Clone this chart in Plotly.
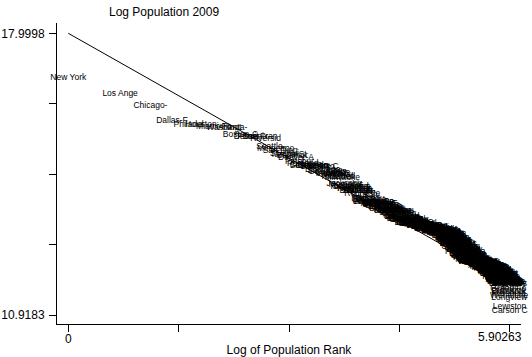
import numpy as np
import plotly.graph_objects as go

# 2009 metropolitan statistical areas, in rank order (names are shown truncated to 8 chars)
msa_names = [
    "New York-Northern New Jersey", "Los Angeles-Long Beach", "Chicago-Naperville", "Dallas-Fort Worth",
    "Philadelphia-Camden", "Houston-Sugar Land", "Miami-Fort Lauderdale", "Washington-Arlington",
    "Atlanta-Sandy Springs", "Boston-Cambridge", "Detroit-Warren", "Phoenix-Mesa",
    "San Francisco-Oakland", "Riverside-San Bernardino", "Seattle-Tacoma", "Minneapolis-St. Paul",
    "San Diego-Carlsbad", "St. Louis", "Tampa-St. Petersburg", "Baltimore-Towson",
    "Denver-Aurora", "Pittsburgh", "Portland-Vancouver", "Cincinnati-Middletown",
    "Sacramento-Arden-Arcade", "Cleveland-Elyria", "Orlando-Kissimmee", "San Antonio",
    "Kansas City", "Las Vegas-Paradise", "San Jose-Sunnyvale", "Columbus",
    "Charlotte-Gastonia", "Indianapolis-Carmel", "Austin-Round Rock", "Virginia Beach-Norfolk",
    "Providence-New Bedford", "Nashville-Davidson", "Milwaukee-Waukesha", "Jacksonville",
    "Memphis", "Louisville-Jefferson", "Richmond", "Oklahoma City",
    "Hartford-West Hartford", "New Orleans-Metairie", "Birmingham-Hoover", "Salt Lake City",
    "Raleigh-Cary", "Buffalo-Niagara Falls", "Rochester", "Tucson",
    "Tulsa", "Fresno", "Honolulu", "Bridgeport-Stamford",
    "Albuquerque", "Albany-Schenectady", "Omaha-Council Bluffs", "New Haven-Milford",
    "Dayton", "Allentown-Bethlehem", "Bakersfield", "Oxnard-Thousand Oaks",
    "Baton Rouge", "Worcester", "Grand Rapids-Wyoming", "El Paso",
    "Columbia", "McAllen-Edinburg", "Greensboro-High Point", "Knoxville",
    "Akron", "Springfield", "Sarasota-Bradenton", "Little Rock",
    "Poughkeepsie-Newburgh", "Stockton", "Charleston-North Charleston", "Toledo",
    "Syracuse", "Greenville-Mauldin", "Colorado Springs", "Wichita",
    "Boise City-Nampa", "Cape Coral-Fort Myers", "Lakeland-Winter Haven", "Madison",
    "Youngstown-Warren", "Des Moines-West Des Moines", "Provo-Orem", "Scranton-Wilkes-Barre",
    "Ogden-Clearfield", "Jackson", "Augusta-Richmond County", "Harrisburg-Carlisle",
    "Palm Bay-Melbourne", "Chattanooga", "Portland-South Portland", "Modesto",
    "Lancaster", "Durham-Chapel Hill", "Deltona-Daytona Beach", "Winston-Salem",
    "Santa Rosa-Petaluma", "Lexington-Fayette", "Spokane", "Fayetteville-Springdale",
    "Pensacola-Ferry Pass", "Lansing-East Lansing", "Visalia-Porterville", "Springfield",
    "York-Hanover", "Flint", "Reno-Sparks", "Corpus Christi",
    "Fort Wayne", "Vallejo-Fairfield", "Mobile", "Salinas",
    "Asheville", "Reading", "Santa Barbara-Santa Maria", "Canton-Massillon",
    "Manchester-Nashua", "Port St. Lucie", "Huntsville", "Salem",
    "Brownsville-Harlingen", "Shreveport-Bossier City", "Killeen-Temple", "Beaumont-Port Arthur",
    "Davenport-Moline", "Anchorage", "Peoria", "Trenton-Ewing",
    "Montgomery", "Hickory-Lenoir", "Fayetteville", "Tallahassee",
    "Evansville", "Wilmington", "Rockford", "Eugene-Springfield",
    "Ann Arbor", "Savannah", "Ocala", "Kalamazoo-Portage",
    "Naples-Marco Island", "South Bend-Mishawaka", "Kingsport-Bristol", "Green Bay",
    "Charleston", "Boulder", "Roanoke", "Fort Collins-Loveland",
    "Lincoln", "Columbus", "Utica-Rome", "Fort Smith",
    "Huntington-Ashland", "Spartanburg", "Erie", "Lubbock",
    "Duluth", "Atlantic City", "Clarksville", "San Luis Obispo",
    "Hagerstown-Martinsburg", "Lafayette", "Norwich-New London", "Gainesville",
    "Cedar Rapids", "Santa Cruz-Watsonville", "Greeley", "Olympia",
    "Lynchburg", "Gulfport-Biloxi", "Amarillo", "Merced",
    "Bremerton-Silverdale", "Binghamton", "Laredo", "Kennewick-Pasco",
    "Yakima", "Sioux Falls", "Waco", "Topeka",
    "Macon", "Champaign-Urbana", "Appleton", "Barnstable Town",
    "Chico", "Prescott", "Tuscaloosa", "Springfield",
    "Burlington-South Burlington", "Las Cruces", "Longview", "Tyler",
    "Medford", "Houma-Bayou Cane", "Florence", "Bellingham",
    "Elkhart-Goshen", "Fargo", "Saginaw-Saginaw Township", "Lake Charles",
    "Yuma", "Lake Havasu City-Kingman", "College Station-Bryan", "Charlottesville",
    "Athens-Clarke County", "Bloomington", "Racine", "Johnson City",
    "Lafayette", "Rochester", "Myrtle Beach-Conway", "Holland-Grand Haven",
    "Napa", "Yuba City", "El Centro", "Farmington",
    "Mount Vernon-Anacortes", "Gainesville", "Pittsfield", "St. Joseph",
    "Columbia", "Jonesboro", "Cape Girardeau-Jackson", "Anniston-Oxford",
    "Sioux City", "San Angelo", "Bend", "Manhattan",
    "Morristown", "Pascagoula",
    "Redding", "Crestview-Fort Walton Beach", "Muskegon-Norton Shores", "Jacksonville",
    "Terre Haute", "Panama City-Lynn Haven", "Bloomington-Normal", "Waterloo-Cedar Falls",
    "Janesville", "Eau Claire", "St. Cloud", "Punta Gorda",
    "Billings", "Abilene", "Monroe", "Joplin",
    "Burlington", "Jackson", "Dover", "Vineland-Millville",
    "Kingston", "Glens Falls", "Sebastian-Vero Beach", "Coeur d'Alene",
    "Decatur", "Decatur", "Pueblo", "Harrisonburg",
    "Blacksburg-Christiansburg", "Iowa City", "Auburn-Opelika", "Alexandria",
    "Wausau", "Wichita Falls", "Jefferson City", "Bangor",
    "Niles-Benton Harbor", "Madera-Chowchilla", "Hanford-Corcoran", "Salisbury",
    "Monroe", "Santa Fe", "Anderson", "Anderson",
    "Greenville", "Texarkana", "Battle Creek", "Warner Robins",
    "Sherman-Denison", "Morgantown", "Dothan", "Lebanon",
    "Florence-Muscle Shoals", "Bowling Green", "Hattiesburg", "Altoona",
    "Mansfield", "Winchester", "State College", "Valdosta",
    "Williamsport", "Wheeling", "Johnstown", "Albany",
    "Lima", "Flagstaff", "Oshkosh-Neenah", "La Crosse",
    "Rocky Mount", "Weirton-Steubenville", "Springfield", "Dalton",
    "Idaho Falls", "Odessa", "Midland", "Goldsboro",
    "St. George", "Owensboro", "Sheboygan", "Lawton",
    "Victoria", "Parkersburg-Marietta", "Ocean City", "Cleveland",
    "Logan", "Jackson", "Elizabethtown", "Kankakee-Bradley",
    "Fairbanks", "Rapid City", "Lewiston-Auburn", "Michigan City-La Porte",
    "Muncie", "Mankato-North Mankato", "Bay City", "Gadsden",
    "Brunswick", "Sumter", "Grand Junction", "Lawrence",
    "Ithaca", "Hinesville-Fort Stewart", "Pine Bluff", "Fond du Lac",
    "Kokomo", "Cumberland", "Hot Springs", "Rome",
    "Palm Coast", "Elmira", "Cheyenne", "Pocatello",
    "Ames", "Corvallis", "Great Falls", "Danville",
    "Danville", "Sandusky", "Columbus", "Casper",
    "Grand Forks", "Dubuque", "Bismarck", "Missoula",
    "Wenatchee-East Wenatchee", "Longview", "Lewiston", "Carson City",
]

# population 2009, thousands (same order as the names)
pop_2009_thousands = [
    19069, 12875, 9580, 6447, 5968, 5867, 5547, 5476, 5475, 4588,
    4403, 4365, 4318, 4143, 3408, 3270, 3054, 2828, 2748, 2690,
    2552, 2355, 2241, 2172, 2127, 2091, 2082, 2073, 2068, 1903,
    1839, 1802, 1746, 1744, 1705, 1674, 1601, 1582, 1560, 1329,
    1304, 1259, 1238, 1228, 1196, 1190, 1132, 1130, 1126, 1124,
    1035, 1020, 929, 916, 908, 901, 857, 857, 855, 848,
    837, 817, 808, 802, 786, 784, 779, 751, 745, 741,
    714, 699, 699, 699, 688, 685, 677, 674, 659, 651,
    646, 639, 626, 612, 606, 586, 583, 570, 563, 562,
    555, 549, 541, 540, 540, 537, 536, 528, 516, 510,
    505, 503, 500, 498, 496, 493, 490, 489, 486, 484,
    481, 479, 476, 474, 472, 469, 467, 465, 462, 460,
    458, 457, 454, 451, 450, 447, 446, 443, 441, 440,
    437, 435, 434, 431, 429, 428, 425, 423, 422, 419,
    417, 416, 412, 411, 408, 406, 405, 401, 400, 397,
    395, 394, 390, 389, 386, 383, 382, 379, 377, 374,
    371, 367, 364, 361, 357, 353, 350, 346, 342, 339,
    335, 331, 328, 324, 320, 317, 314, 311, 308, 305,
    302, 299, 296, 293, 290, 287, 284, 281, 278, 276,
    273, 270, 267, 264, 262, 259, 257, 254, 252, 249,
    247, 245, 243, 240, 238, 236, 233, 231, 229, 227,
    225, 223, 221, 219, 217, 214, 212, 210, 208, 206,
    204, 203, 202, 201, 200, 199, 199, 198, 197, 196,
    195, 195, 194, 193, 192, 192, 191, 190, 190, 189,
    189, 188, 188, 187, 187, 187, 186, 186, 186, 185,
    185, 184, 184, 183, 182, 182, 181, 180, 179, 179,
    178, 177, 177, 176, 175, 174, 174, 173, 172, 172,
    171, 170, 170, 169, 168, 168, 167, 167, 166, 166,
    165, 164, 164, 163, 162, 161, 161, 160, 159, 158,
    158, 157, 156, 156, 155, 154, 154, 153, 152, 152,
    151, 150, 149, 149, 148, 147, 146, 145, 145, 144,
    143, 142, 141, 141, 140, 139, 138, 137, 137, 136,
    135, 134, 133, 132, 131, 130, 130, 129, 128, 127,
    126, 125, 124, 123, 123, 122, 121, 120, 119, 118,
    117, 117, 116, 116, 115, 114, 114, 113, 113, 112,
    111, 111, 110, 110, 109, 108, 108, 100, 96, 92,
    88, 84, 80, 77, 61, 55.177,
]

# fitted line drawn over the ranks
fit_intercept = 17.9998
fit_slope = -1.063

label_chars = 8

pop = np.asarray(pop_2009_thousands, dtype=float) * 1000.0
order = np.argsort(-pop, kind="stable")
labels = [msa_names[i][:label_chars] for i in order]
log_pop = np.log(pop[order])
rank = np.arange(1, len(pop) + 1)
log_rank = np.log(rank)

xmax = float(log_rank.max())
ymin = float(log_pop.min())
ymax = fit_intercept

FONT = "Liberation Sans, Arial, sans-serif"

fig = go.Figure()
fig.add_trace(go.Scatter(
    x=[0.0, xmax], y=[fit_intercept, fit_intercept + fit_slope * xmax],
    mode="lines", line=dict(color="black", width=1), hoverinfo="skip",
))
fig.add_trace(go.Scatter(
    x=log_rank, y=log_pop, mode="text", text=labels,
    textposition="top center",
    textfont=dict(family=FONT, size=8.5, color="black"),
    cliponaxis=False, hoverinfo="text",
))

xt = np.linspace(0.0, xmax, 5)
yt = np.linspace(ymin, ymax, 5)
xtt = ["0" if i == 0 else "" for i, v in enumerate(xt)]
ytt = [f"{v:.6g}" if i in (0, 4) else "" for i, v in enumerate(yt)]

xpad = 0.151
ypad_top = 0.259
ypad_bot = 0.226

fig.update_layout(
    width=532, height=357,
    margin=dict(l=57, r=11, t=23, b=33, autoexpand=False),
    paper_bgcolor="white", plot_bgcolor="white",
    showlegend=False,
    font=dict(family=FONT, size=12, color="black"),
    annotations=[
        dict(text="Log Population 2009", xref="paper", yref="paper",
             x=(164 - 57) / 464, y=1, yshift=20, xanchor="center", yanchor="top",
             showarrow=False, font=dict(family=FONT, size=12, color="black")),
        # right-hand x tick label, set in from the axis end as in the source
        dict(text=f"{xmax:.6g}", xref="x", yref="paper", x=xmax, y=0,
             yshift=-4, xshift=-10, xanchor="center", yanchor="top",
             showarrow=False, font=dict(family=FONT, size=12, color="black")),
    ],
)
fig.update_xaxes(
    range=[-xpad, xmax + xpad], tickvals=xt, ticktext=xtt,
    ticks="outside", ticklen=7, tickwidth=1, tickcolor="black",
    ticklabelstandoff=-3,
    showline=True, linecolor="black", linewidth=1,
    showgrid=False, zeroline=False, automargin=False,
    tickfont=dict(family=FONT, size=12, color="black"),
    title=dict(text="Log of Population Rank", standoff=2,
               font=dict(family=FONT, size=12, color="black")),
)
fig.update_yaxes(
    range=[ymin - ypad_bot, ymax + ypad_top], tickvals=yt, ticktext=ytt,
    ticks="outside", ticklen=7, tickwidth=1, tickcolor="black",
    ticklabelstandoff=2,
    showline=True, linecolor="black", linewidth=1,
    showgrid=False, zeroline=False, automargin=False,
    tickfont=dict(family=FONT, size=12, color="black"),
)

fig.write_html(
    "out.html",
    config={"displayModeBar": False},
    post_script="document.body.style.margin='0';document.body.style.overflow='hidden';",
)
